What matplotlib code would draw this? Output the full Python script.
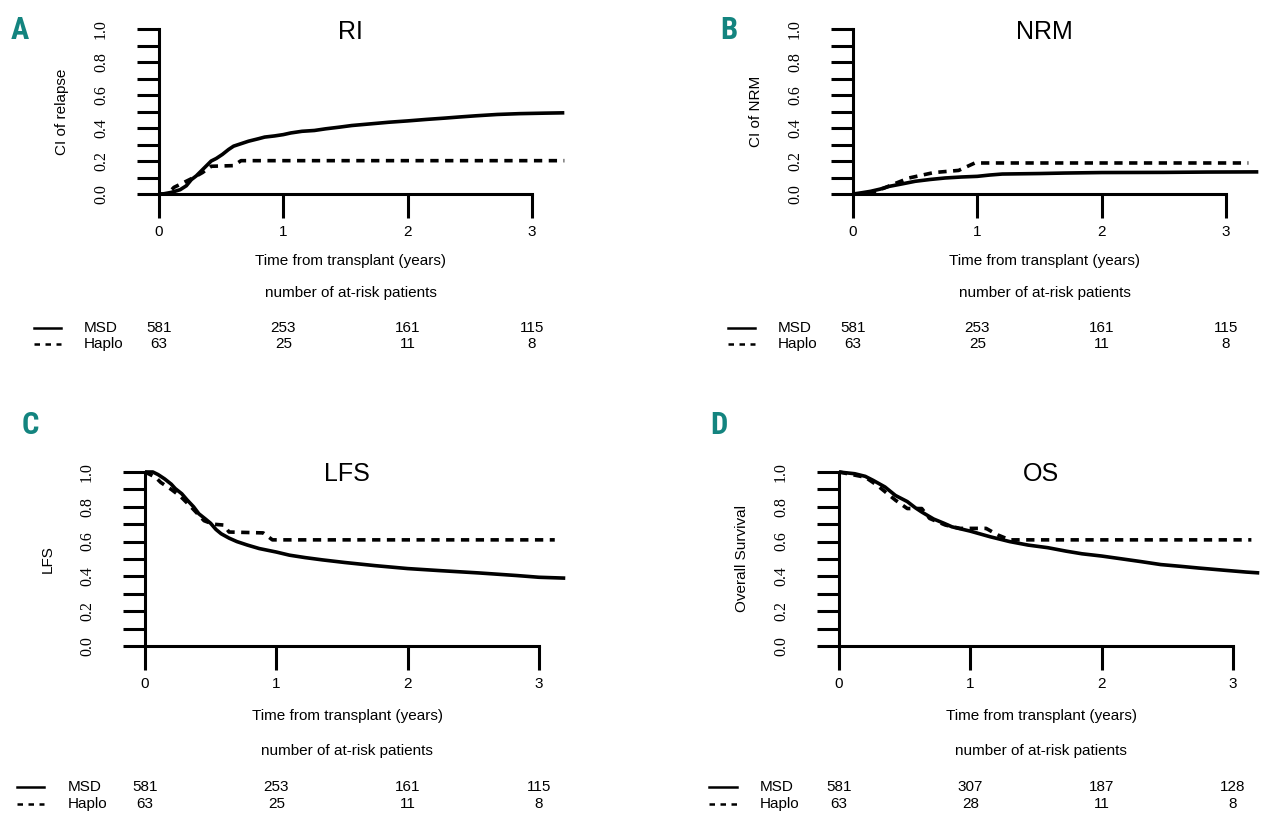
import numpy as np
import matplotlib
matplotlib.use("Agg")
import matplotlib.pyplot as plt
from matplotlib.lines import Line2D

# ---------------- data ----------------
titles = ["RI", "NRM", "LFS", "OS"]
letters = ["A", "B", "C", "D"]
ylabels = ["CI of relapse", "CI of NRM", "LFS", "Overall Survival"]
groups = ["MSD", "Haplo"]
xtick_vals = [0, 1, 2, 3]
ytick_vals = [0.0, 0.1, 0.2, 0.3, 0.4, 0.5, 0.6, 0.7, 0.8, 0.9, 1.0]
ytick_labels = ["0.0", "", "0.2", "", "0.4", "", "0.6", "", "0.8", "", "1.0"]

ri_msd_t = [0, 0.03, 0.10, 0.17, 0.22, 0.26, 0.30, 0.34, 0.38, 0.42, 0.46, 0.51, 0.56, 0.60, 0.66,
            0.72, 0.80, 0.85, 0.93, 1.00, 1.06, 1.15, 1.25, 1.34, 1.45, 1.55, 1.70, 1.85, 2.00,
            2.15, 2.30, 2.42, 2.55, 2.72, 2.90, 3.10, 3.26]
ri_msd_v = [0, 0.0, 0.01, 0.026, 0.05, 0.087, 0.11, 0.14, 0.17, 0.20, 0.215, 0.24, 0.27, 0.29, 0.305,
            0.32, 0.335, 0.345, 0.352, 0.36, 0.37, 0.38, 0.385, 0.395, 0.405, 0.415, 0.425, 0.435, 0.443,
            0.452, 0.46, 0.467, 0.474, 0.482, 0.487, 0.49, 0.492]
ri_haplo_t = [0, 0.07, 0.12, 0.20, 0.28, 0.35, 0.42, 0.60, 0.66, 3.26]
ri_haplo_v = [0, 0.0, 0.04, 0.07, 0.10, 0.13, 0.168, 0.172, 0.202, 0.202]

nrm_msd_t = [0, 0.05, 0.14, 0.22, 0.29, 0.40, 0.50, 0.62, 0.74, 0.87, 1.00, 1.10, 1.20, 1.50,
             1.70, 2.00, 2.50, 2.85, 3.26]
nrm_msd_v = [0, 0.005, 0.016, 0.03, 0.046, 0.062, 0.077, 0.088, 0.097, 0.103, 0.107, 0.115,
             0.121, 0.124, 0.127, 0.13, 0.131, 0.133, 0.134]
nrm_haplo_t = [0, 0.14, 0.25, 0.35, 0.45, 0.65, 0.85, 0.98, 3.18]
nrm_haplo_v = [0, 0.005, 0.036, 0.067, 0.097, 0.13, 0.143, 0.188, 0.188]

lfs_msd_t = [0, 0.06, 0.10, 0.15, 0.20, 0.23, 0.28, 0.32, 0.37, 0.41, 0.46, 0.50, 0.54, 0.58, 0.64,
             0.70, 0.78, 0.87, 1.00, 1.10, 1.22, 1.35, 1.52, 1.75, 2.00, 2.25, 2.54, 2.83, 3.00, 3.20]
lfs_msd_v = [1.0, 1.0, 0.985, 0.96, 0.93, 0.905, 0.875, 0.84, 0.80, 0.76, 0.73, 0.705, 0.67, 0.645,
             0.62, 0.60, 0.58, 0.56, 0.54, 0.522, 0.508, 0.495, 0.48, 0.462, 0.445, 0.433, 0.42,
             0.405, 0.395, 0.39]
lfs_haplo_t = [0, 0.08, 0.12, 0.20, 0.27, 0.35, 0.45, 0.52, 0.60, 0.64, 0.90, 0.97, 3.12]
lfs_haplo_v = [1.0, 0.97, 0.94, 0.90, 0.86, 0.80, 0.72, 0.70, 0.695, 0.655, 0.65, 0.61, 0.61]

os_msd_t = [0, 0.12, 0.20, 0.26, 0.35, 0.43, 0.52, 0.58, 0.63, 0.72, 0.80, 0.86, 1.00, 1.15, 1.30,
            1.44, 1.59, 1.73, 1.85, 2.00, 2.16, 2.30, 2.45, 2.60, 2.74, 2.94, 3.10, 3.20]
os_msd_v = [1.0, 0.99, 0.975, 0.952, 0.914, 0.865, 0.83, 0.795, 0.77, 0.73, 0.705, 0.685, 0.66,
            0.628, 0.6, 0.58, 0.565, 0.545, 0.53, 0.517, 0.5, 0.485, 0.468, 0.458, 0.448, 0.435,
            0.425, 0.42]
os_haplo_t = [0, 0.20, 0.29, 0.43, 0.52, 0.63, 0.69, 0.81, 0.92, 1.12, 1.21, 1.30, 3.14]
os_haplo_v = [1.0, 0.97, 0.924, 0.838, 0.79, 0.79, 0.733, 0.695, 0.676, 0.676, 0.638, 0.61, 0.61]

risk_msd = [[581, 253, 161, 115], [581, 253, 161, 115], [581, 253, 161, 115], [581, 307, 187, 128]]
risk_haplo = [[63, 25, 11, 8], [63, 25, 11, 8], [63, 25, 11, 8], [63, 28, 11, 8]]

curves = [
    ((ri_msd_t, ri_msd_v), (ri_haplo_t, ri_haplo_v)),
    ((nrm_msd_t, nrm_msd_v), (nrm_haplo_t, nrm_haplo_v)),
    ((lfs_msd_t, lfs_msd_v), (lfs_haplo_t, lfs_haplo_v)),
    ((os_msd_t, os_msd_v), (os_haplo_t, os_haplo_v)),
]

# ---------------- layout (pixels) ----------------
W, H = 1280, 827
# x0 px, x3 px, y0 px (value 0), y1 px (value 1)
geom = [(159, 532, 194, 29), (853, 1226, 194, 29), (145, 539, 646, 472), (839, 1233, 646, 472)]
text_rows = [(261, 293, 328, 344), (261, 293, 328, 344), (716, 751, 787, 804), (716, 751, 787, 804)]
title_y = [32, 32, 474, 474]
letter_pos = [(20, 30), (729, 30), (30, 425), (719, 425)]
sample_x = [(34, 61, 84), (728, 755, 778), (17, 44, 68), (709, 737, 760)]

SANS = ["Liberation Sans", "DejaVu Sans"]
SERIF = ["Liberation Serif", "DejaVu Serif"]
plt.rcParams["font.family"] = SANS

fig = plt.figure(figsize=(W / 100, H / 100), dpi=100)
fig.patch.set_facecolor("white")


def fxy(px, py):
    return px / W, 1 - py / H


XMAX, YMAX = 3.35, 1.04
for i in range(4):
    x0, x3, y0, y1 = geom[i]
    ppy = (x3 - x0) / 3.0
    ppv = (y0 - y1)
    ax = fig.add_axes([x0 / W, (H - y0) / H, XMAX * ppy / W, YMAX * ppv / H])
    ax.set_xlim(0, XMAX)
    ax.set_ylim(0, YMAX)
    ax.patch.set_visible(False)
    for s in ["top", "right"]:
        ax.spines[s].set_visible(False)
    ax.spines["left"].set_bounds(0, 1)
    ax.spines["bottom"].set_bounds(0, 3)
    for s in ["left", "bottom"]:
        ax.spines[s].set_linewidth(2.2)
    ax.set_xticks(xtick_vals)
    ax.set_xticklabels([str(v) for v in xtick_vals], fontsize=11, family=SANS)
    ax.set_yticks(ytick_vals)
    ax.set_yticklabels(ytick_labels, fontsize=11.5, family=SERIF, rotation=90, va="center")
    ax.tick_params(axis="x", direction="out", length=17, width=2.2, pad=5)
    ax.tick_params(axis="y", direction="out", length=16, width=2.2, pad=20)

    (mt, mv), (ht, hv) = curves[i]
    ax.plot(mt, mv, color="black", lw=2.6, clip_on=False,
            solid_capstyle="butt", solid_joinstyle="round")
    ax.plot(ht, hv, color="black", lw=2.6, clip_on=False,
            linestyle=(0, (2.3, 1.8)), dash_capstyle="butt")

    # title
    tx = x0 + 1.54 * ppy
    fig.text(*fxy(tx, title_y[i]), titles[i], fontsize=18, ha="center", va="center")
    # panel letter
    fig.text(*fxy(*letter_pos[i]), letters[i], fontsize=22, fontweight="bold",
             color="#13847f", ha="center", va="center",
             family=["Liberation Sans Narrow", "Roboto Condensed", "Liberation Sans", "DejaVu Sans"],
             fontstretch="condensed")
    # ylabel
    fig.text(*fxy(x0 - 97, (y0 + y1) / 2), ylabels[i], fontsize=11, rotation=90,
             ha="center", va="center")
    # xlabel and at-risk header
    xl, ar, r1, r2 = text_rows[i]
    fig.text(*fxy(tx, xl), "Time from transplant (years)", fontsize=11, ha="center", va="center")
    fig.text(*fxy(tx, ar), "number of at-risk patients", fontsize=11, ha="center", va="center")
    # table rows
    sx0, sx1, nx = sample_x[i]
    fig.add_artist(Line2D([sx0 / W, sx1 / W], [1 - r1 / H, 1 - r1 / H], transform=fig.transFigure,
                          color="black", lw=1.8))
    fig.add_artist(Line2D([sx0 / W, sx1 / W], [1 - r2 / H, 1 - r2 / H], transform=fig.transFigure,
                          color="black", lw=1.8, linestyle=(0, (2.2, 2.2))))
    fig.text(*fxy(nx, r1), groups[0], fontsize=11, ha="left", va="center")
    fig.text(*fxy(nx, r2), groups[1], fontsize=11, ha="left", va="center")
    for k, tv in enumerate(xtick_vals):
        px = x0 + tv * ppy
        fig.text(*fxy(px, r1), str(risk_msd[i][k]), fontsize=11, ha="center", va="center")
        fig.text(*fxy(px, r2), str(risk_haplo[i][k]), fontsize=11, ha="center", va="center")

fig.savefig("out.png", dpi=100, facecolor="white")
